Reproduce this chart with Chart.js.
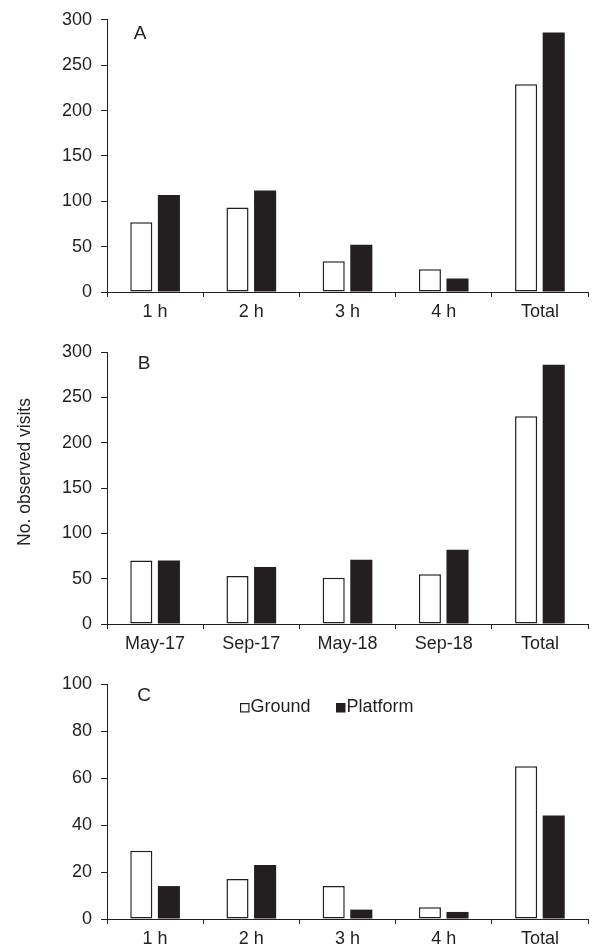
<!DOCTYPE html>
<html>
<head>
<meta charset="utf-8">
<script src="https://cdn.jsdelivr.net/npm/chart.js@4.4.1/dist/chart.umd.min.js"></script>
<style>
  body { margin: 0; background: #fff; }
  #wrap { position: relative; width: 592px; height: 948px; }
  canvas { position: absolute; left: 0; }
</style>
</head>
<body>
<div id="wrap">
  <canvas id="chartA" width="592" height="330" style="top:0px"></canvas>
  <canvas id="chartB" width="592" height="330" style="top:330px"></canvas>
  <canvas id="chartC" width="592" height="288" style="top:660px"></canvas>
</div>
<script>
// data
const hourLabels = ['1 h', '2 h', '3 h', '4 h', 'Total'];
const seasonLabels = ['May-17', 'Sep-17', 'May-18', 'Sep-18', 'Total'];

const groundA = [77, 93, 34, 25, 229];
const platformA = [107, 112, 52, 15, 286];

const groundB = [70, 53, 51, 55, 229];
const platformB = [70, 63, 71, 82, 286];

const groundC = [29, 17, 14, 5, 65];
const platformC = [14, 23, 4, 3, 44];

const seriesNames = ['Ground', 'Platform'];

const ink = '#231f20';
const family = "'Liberation Sans', Arial, sans-serif";

// panel letter, optional legend and y title drawn on top of each chart
function annotPlugin(letter, dx, dy, withLegend, withTitle) {
  return {
    id: 'annot' + letter,
    afterDraw(chart) {
      const { ctx, chartArea } = chart;
      ctx.save();
      ctx.fillStyle = ink;
      ctx.textBaseline = 'middle';
      ctx.textAlign = 'center';
      ctx.font = '19px ' + family;
      ctx.fillText(letter, chartArea.left + dx, chartArea.top + dy);

      if (withLegend) {
        ctx.font = '18px ' + family;
        ctx.textAlign = 'left';
        const ly = chartArea.top + 23.5;
        const x0 = chartArea.left + 133;
        const x1 = chartArea.left + 229;
        // Ground: open box
        ctx.strokeStyle = ink;
        ctx.lineWidth = 1.2;
        ctx.fillStyle = '#fff';
        ctx.fillRect(x0, ly - 4.5, 9.5, 9.5);
        ctx.strokeRect(x0 + 0.6, ly - 3.9, 8.3, 8.3);
        ctx.fillStyle = ink;
        ctx.fillText(seriesNames[0], x0 + 10.5, ly);
        // Platform: filled box
        ctx.fillRect(x1, ly - 4.5, 9.5, 9.5);
        ctx.fillText(seriesNames[1], x1 + 10.5, ly);
      }

      if (withTitle) {
        ctx.font = '17.5px ' + family;
        ctx.textAlign = 'center';
        ctx.translate(25, 142);
        ctx.rotate(-Math.PI / 2);
        ctx.fillText('No. observed visits', 0, 0);
      }
      ctx.restore();
    }
  };
}

function makePanel(id, labels, ground, platform, max, step, padTop, xHeight, plugin) {
  return new Chart(document.getElementById(id), {
    type: 'bar',
    data: {
      labels: labels,
      datasets: [
        {
          label: seriesNames[0],
          data: ground,
          backgroundColor: '#ffffff',
          borderColor: ink,
          borderWidth: 1.5,
          borderSkipped: false,
          categoryPercentage: 0.574,
          barPercentage: 0.8
        },
        {
          label: seriesNames[1],
          data: platform,
          backgroundColor: ink,
          borderWidth: 0,
          categoryPercentage: 0.574,
          barPercentage: 0.8
        }
      ]
    },
    options: {
      responsive: false,
      animation: false,
      layout: { padding: { top: padTop, right: 4, bottom: 0, left: 0 } },
      plugins: {
        legend: { display: false },
        tooltip: { enabled: false }
      },
      scales: {
        x: {
          grid: { drawOnChartArea: false, tickLength: 5, color: ink, offset: true },
          border: { color: ink, width: 1 },
          ticks: { color: ink, font: { family: family, size: 18 }, padding: 4, maxRotation: 0, autoSkip: false },
          afterFit(scale) { scale.height = xHeight; }
        },
        y: {
          min: 0,
          max: max,
          ticks: { stepSize: step, color: ink, font: { family: family, size: 18 }, padding: 9 },
          grid: { drawOnChartArea: false, tickLength: 6, color: ink },
          border: { color: ink, width: 1 },
          afterFit(scale) { scale.width = 107; }
        }
      }
    },
    plugins: [plugin]
  });
}

makePanel('chartA', hourLabels, groundA, platformA, 300, 50, 17, 38, annotPlugin('A', 33, 13.5, false, false));
makePanel('chartB', seasonLabels, groundB, platformB, 300, 50, 22, 36, annotPlugin('B', 37, 12, false, true));
makePanel('chartC', hourLabels, groundC, platformC, 100, 20, 24, 29, annotPlugin('C', 37, 11.5, true, false));
</script>
</body>
</html>
